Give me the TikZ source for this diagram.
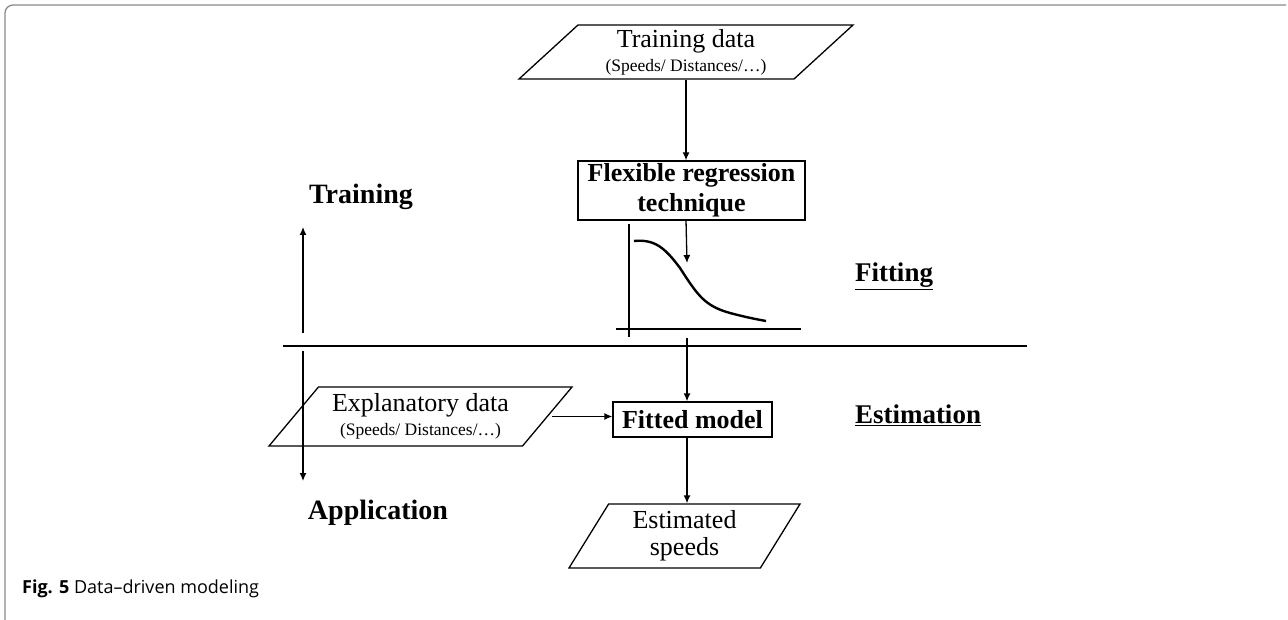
\documentclass[tikz,border=0pt]{standalone}
\usepackage{fontspec}
\setmainfont{Liberation Serif}
\setsansfont{Open Sans}
\usetikzlibrary{shapes.geometric,arrows.meta,positioning}
\definecolor{cadre}{HTML}{8A8A8A}

\begin{document}
\begin{tikzpicture}[
    x=1pt,y=-1pt,
    donnee/.style = {trapezium, draw, line width=1.3pt, align=center,
                     trapezium stretches body, inner sep=1pt,
                     font=\fontsize{26}{26}\selectfont},
    boite/.style  = {rectangle, draw, line width=1.3pt, align=center,
                     inner sep=1pt, font=\fontsize{26}{30}\selectfont\bfseries},
    phase/.style  = {font=\fontsize{28}{30}\selectfont\bfseries},
    etape/.style  = {font=\fontsize{27}{30}\selectfont\bfseries},
    fleche/.style = {-{Latex[length=8pt,width=7pt]}, line width=1.3pt},
    axe/.style    = {line width=2.4pt},
  ]
  \useasboundingbox (0,0) rectangle (1288,620);

  % Cadre de la figure
  \draw[cadre,line width=1.3pt,rounded corners=8pt]
       (1286,5) -- (5,5) -- (5,630);
  \node[font=\sffamily\fontsize{18}{20}\selectfont,anchor=west,inner sep=0pt] (legende)
       at (22,589) {\textbf{Fig. 5} Data–driven modeling};

  % Partie apprentissage
  \node[donnee,trapezium left angle=39,trapezium right angle=141,
        minimum width=334,minimum height=54] (train) at (686,52)
       {Training data\\[-2pt]{\fontsize{17.5}{18}\selectfont (Speeds/ Distances/…)}};
  \node[boite,minimum width=227,minimum height=59] (flex) at (691.5,190.5)
       {Flexible regression\\technique};

  % Courbe ajustee
  \draw[axe] (629,224) -- (629,337);
  \draw[axe] (616,329) -- (801,329);
  \draw[axe] (634,241) .. controls (655,239) and (665,248) .. (680,268)
       .. controls (698,296) and (705,306) .. (730,313)
       .. controls (745,317) and (755,319) .. (766,321);
  \coordinate (cible) at (687,263);
  \coordinate (depart) at (687,338);

  % Separation
  \coordinate (sepg) at (283,346);
  \coordinate (sepd) at (1027,346);
  \draw[line width=1.8pt] (sepg) -- (sepd);

  % Partie application
  \node[boite,minimum width=159,minimum height=35] (fit) at (692.5,419.5)
       {Fitted model};
  \node[donnee,trapezium left angle=44,trapezium right angle=136,
        minimum width=303,minimum height=59] (expl) at (420.5,416.5)
       {Explanatory data\\[-2pt]{\fontsize{17.5}{18}\selectfont (Speeds/ Distances/…)}};
  \node[donnee,trapezium left angle=53,trapezium right angle=127,
        minimum width=231,minimum height=64] (est) at (684.5,536)
       {Estimated\\[1pt]speeds};

  % Etiquettes
  \node[phase] (tr)  at (361,197) {Training};
  \node[phase] (app) at (378,513) {Application};
  \node[etape] (fitting) at (894,276) {\underline{Fitting}};
  \node[etape] (estim)   at (918,415) {\underline{Estimation}};

  \coordinate (hb) at (303,333);
  \coordinate (hh) at (303,227);
  \coordinate (bh) at (303,351);
  \coordinate (bb) at (303,481);
  \draw[fleche] (hb) -- (hh);
  \draw[fleche] (bh) -- (bb);

  \draw[fleche] (train.south) -- (train.south |- flex.north);
  \draw[fleche] (train.south |- flex.south) -- (cible);
  \draw[fleche] (depart) -- (depart |- fit.north);
  \draw[fleche] ([xshift=4pt]expl.east) -- (expl.east -| fit.west);
  \draw[fleche] (depart |- fit.south) -- (depart |- est.north);

\end{tikzpicture}
\end{document}
